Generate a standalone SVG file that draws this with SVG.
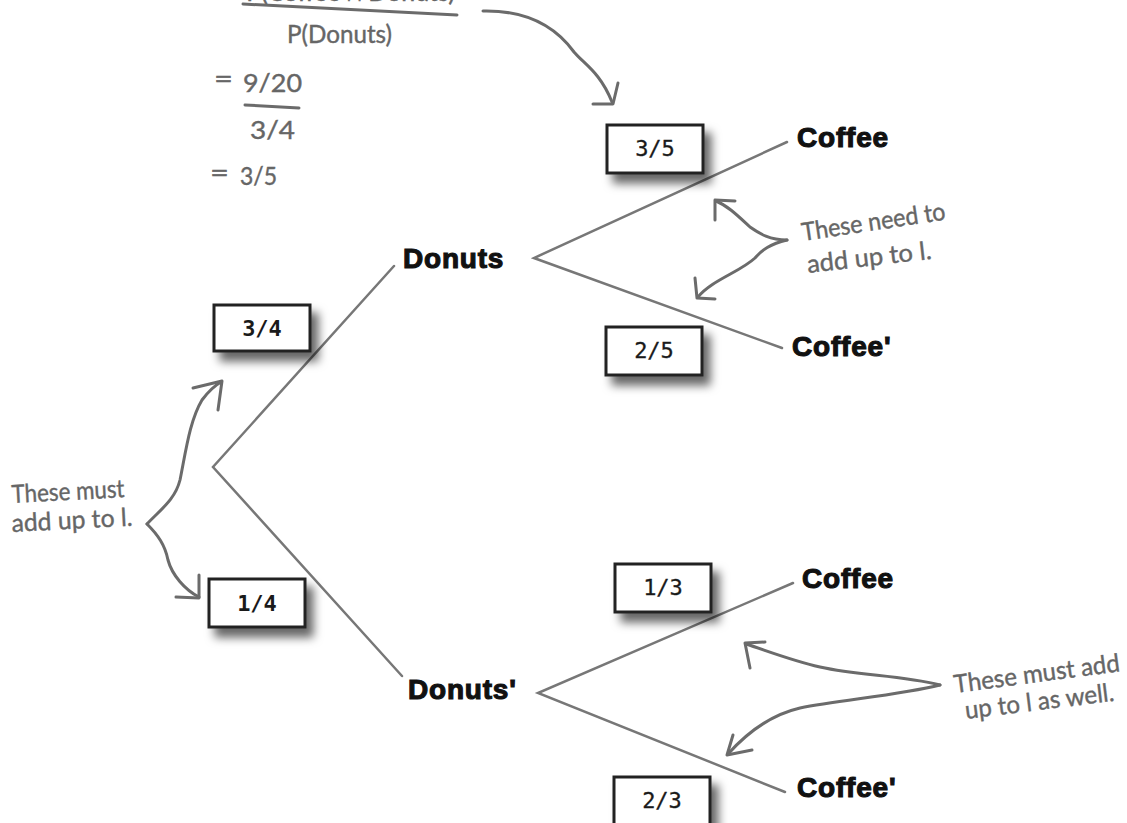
<svg xmlns="http://www.w3.org/2000/svg" width="1127" height="823" viewBox="0 0 1127 823">
<defs>
<filter id="sh" x="-20%" y="-20%" width="150%" height="180%">
<feDropShadow dx="7" dy="9" stdDeviation="5" flood-color="#000" flood-opacity="0.6"/>
</filter>
<style>
.box rect{fill:#fff;stroke:#222;stroke-width:3;filter:url(#sh)}
.box text{font-family:"DejaVu Sans Mono","Liberation Mono",monospace;font-size:22px;fill:#1a1a1a;stroke:#1a1a1a;stroke-width:0.3;text-anchor:middle}
.box.b text{font-weight:bold;stroke-width:0}
.lbl{font-family:"Liberation Sans",Arial,sans-serif;font-weight:bold;font-size:28px;fill:#111;stroke:#111;stroke-width:1.1;letter-spacing:0.8px}
.hw{font-family:Lato,"Open Sans",sans-serif;font-size:25px;fill:#666;stroke:#666;stroke-width:0.4}
.edge{stroke:#777;stroke-width:2.5;fill:none;stroke-linecap:round}
.ann{stroke:#6b6b6b;stroke-width:3;fill:none;stroke-linecap:round;stroke-linejoin:round}
</style>
</defs>
<rect width="1127" height="823" fill="#fff"/>

<g id="formula">
<text class="hw" x="455" y="1" text-anchor="end">P(Coffee ∩ Donuts)</text>
<line class="ann" x1="243" y1="4" x2="457" y2="15"/>
<text class="hw" x="287" y="43" textLength="105" lengthAdjust="spacingAndGlyphs">P(Donuts)</text>
<text class="hw" x="214" y="88" textLength="19" lengthAdjust="spacingAndGlyphs">=</text>
<text class="hw" x="243" y="92" textLength="59" lengthAdjust="spacingAndGlyphs">9/20</text>
<line class="ann" x1="245" y1="105" x2="299" y2="108"/>
<text class="hw" x="250" y="139" textLength="45" lengthAdjust="spacingAndGlyphs">3/4</text>
<text class="hw" x="210" y="182" textLength="19" lengthAdjust="spacingAndGlyphs">=</text>
<text class="hw" x="240" y="185" textLength="37" lengthAdjust="spacingAndGlyphs">3/5</text>
</g>

<g id="connectors">
<polyline class="edge" points="394,266 213,467 402,676"/>
<polyline class="edge" points="787,142 534,258 782,348"/>
<polyline class="edge" points="793,583 538,693 785,792"/>
</g>

<g id="annotation-arrows">
<path class="ann" d="M483,11 C530,10 558,30 574,52 C584,64 600,72 612,102"/>
<polyline class="ann" points="593,104 613,104 618,83"/>
<path class="ann" d="M787,240 C770,240 760,234 750,227 C738,216 728,206 716,201"/>
<polyline class="ann" points="735,201 715,200 715,220"/>
<path class="ann" d="M787,240 C770,244 762,250 755,258 C740,272 712,280 698,297"/>
<polyline class="ann" points="695,278 697,298 715,299"/>
<path class="ann" d="M147,524 C160,510 175,500 180,480 C186,450 190,420 202,400 C208,392 214,386 221,382"/>
<polyline class="ann" points="193,388 222,381 218,410"/>
<path class="ann" d="M147,524 C158,535 165,545 168,560 C172,575 185,590 199,597"/>
<polyline class="ann" points="176,597 199,598 199,575"/>
<path class="ann" d="M940,685 C900,675 860,676 820,667 C790,660 765,650 746,644"/>
<polyline class="ann" points="765,642 745,643 750,668"/>
<path class="ann" d="M940,685 C900,695 840,700 800,708 C770,715 745,735 728,754"/>
<polyline class="ann" points="733,735 727,755 752,750"/>
</g>

<g id="note-top">
<text class="hw" transform="translate(803,241) rotate(-8.5)" textLength="145" lengthAdjust="spacingAndGlyphs">These need to</text>
<text class="hw" transform="translate(808,273) rotate(-6.5)" textLength="125" lengthAdjust="spacingAndGlyphs">add up to l.</text>
</g>
<g id="note-left">
<text class="hw" transform="translate(12,503) rotate(-3)" textLength="113" lengthAdjust="spacingAndGlyphs">These must</text>
<text class="hw" transform="translate(12,532) rotate(-3)" textLength="121" lengthAdjust="spacingAndGlyphs">add up to l.</text>
</g>
<g id="note-bottom">
<text class="hw" transform="translate(955,693) rotate(-7.5)" textLength="167" lengthAdjust="spacingAndGlyphs">These must add</text>
<text class="hw" transform="translate(966,719) rotate(-7)" textLength="150" lengthAdjust="spacingAndGlyphs">up to l as well.</text>
</g>

<g id="box-3-4" class="box b"><rect x="214" y="305" width="96" height="46"/><text x="262" y="336">3/4</text></g>
<g id="box-1-4" class="box b"><rect x="209" y="579" width="96" height="48"/><text x="257" y="611">1/4</text></g>
<g id="box-3-5" class="box"><rect x="607" y="125" width="96" height="48"/><text x="655" y="156">3/5</text></g>
<g id="box-2-5" class="box"><rect x="606" y="327" width="96" height="48"/><text x="654" y="358">2/5</text></g>
<g id="box-1-3" class="box"><rect x="615" y="564" width="96" height="48"/><text x="663" y="595">1/3</text></g>
<g id="box-2-3" class="box"><rect x="614" y="777" width="96" height="48"/><text x="662" y="808">2/3</text></g>

<g id="node-donuts"><text class="lbl" x="403" y="268">Donuts</text></g>
<g id="node-donuts-not"><text class="lbl" x="408" y="699">Donuts'</text></g>
<g id="node-coffee-1"><text class="lbl" x="797" y="147">Coffee</text></g>
<g id="node-coffee-not-1"><text class="lbl" x="792" y="356">Coffee'</text></g>
<g id="node-coffee-2"><text class="lbl" x="802" y="588">Coffee</text></g>
<g id="node-coffee-not-2"><text class="lbl" x="797" y="797">Coffee'</text></g>
</svg>
